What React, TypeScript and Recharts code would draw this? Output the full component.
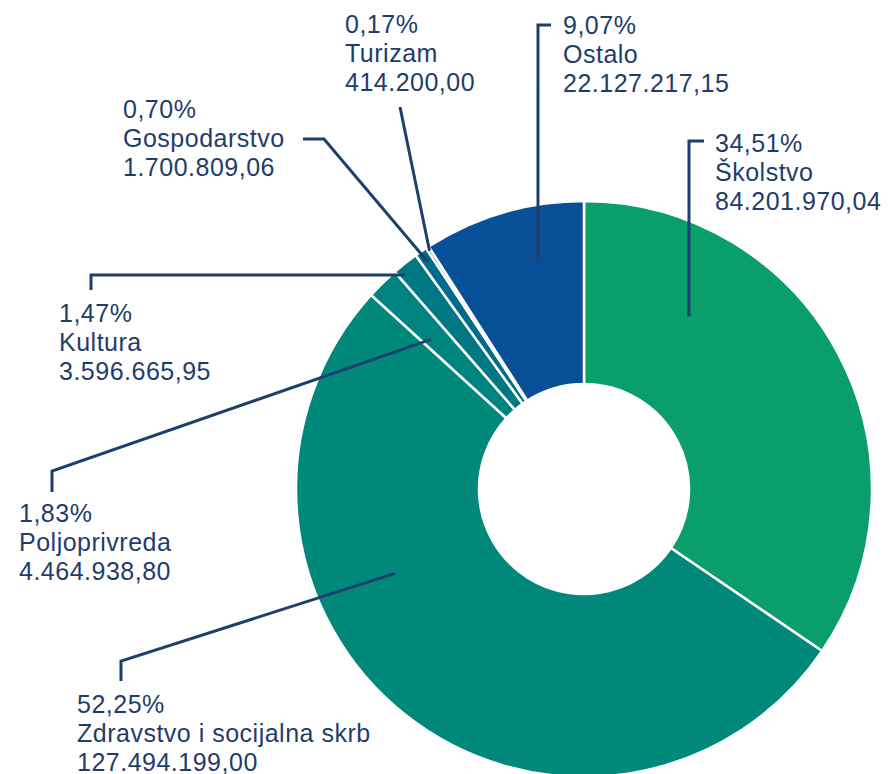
import React from 'react';
import { PieChart, Pie, Cell } from 'recharts';

const categories = [
  'Školstvo',
  'Zdravstvo i socijalna skrb',
  'Poljoprivreda',
  'Kultura',
  'Gospodarstvo',
  'Turizam',
  'Ostalo',
];

const amounts = [
  84201970.04, 127494199.0, 4464938.8, 3596665.95, 1700809.06, 414200.0, 22127217.15,
];

const sliceColors = ['#0a9e6b', '#00897b', '#008480', '#007884', '#006b8a', '#005e90', '#074f96'];

// where each leader starts inside its slice (t = share of the slice's sweep, r = radius)
// then the bend points and the text block position
const labelLayout = [
  { t: 0.252, r: 202, bends: [[689, 141], [704, 141]], tx: 715, ty: 152 },
  { t: 0.647, r: 207, bends: [[121, 661], [121, 681]], tx: 77, ty: 713 },
  { t: 0.31, r: 214, bends: [[52, 471], [52, 492]], tx: 19, ty: 522 },
  { t: 0.22, r: 279, bends: [[91, 275], [91, 290]], tx: 59, ty: 322 },
  { t: 0.5, r: 276, bends: [[324, 139], [303, 139]], tx: 123, ty: 118 },
  { t: 0.5, r: 284, bends: [[400, 107]], tx: 345, ty: 33 },
  { t: 0.648, r: 231, bends: [[538, 25], [551, 25]], tx: 563, ty: 34 },
];

const total = amounts.reduce((s, v) => s + v, 0);

const formatAmount = (v: number) => {
  const [int, dec] = v.toFixed(2).split('.');
  return int.replace(/\B(?=(\d{3})+(?!\d))/g, '.') + ',' + dec;
};

const formatPercent = (v: number) => ((v / total) * 100).toFixed(2).replace('.', ',') + '%';

const data = categories.map((name, i) => ({ name, value: amounts[i] }));

const TEXT_COLOR = '#1f3d6b';
const LINE_COLOR = '#1d3f6e';
const RAD = Math.PI / 180;

const renderLabel = (props: any) => {
  const { cx, cy, startAngle, endAngle, index, value, name } = props;
  const lay = labelLayout[index];
  const a = startAngle + lay.t * (endAngle - startAngle);
  const ax = cx + lay.r * Math.cos(-a * RAD);
  const ay = cy + lay.r * Math.sin(-a * RAD);
  const pts = [[ax, ay], ...lay.bends].map((p) => p.join(',')).join(' ');
  return (
    <g key={`lbl-${index}`}>
      <polyline points={pts} fill="none" stroke={LINE_COLOR} strokeWidth={3} />
      <text
        x={lay.tx}
        y={lay.ty}
        fill={TEXT_COLOR}
        fontSize={25}
        letterSpacing={0.5}
        fontFamily="'Liberation Sans', Arial, sans-serif"
        textAnchor="start"
      >
        <tspan x={lay.tx}>{formatPercent(value)}</tspan>
        <tspan x={lay.tx} dy={29}>{name}</tspan>
        <tspan x={lay.tx} dy={29}>{formatAmount(value)}</tspan>
      </text>
    </g>
  );
};

export default function App() {
  return (
    <div style={{ position: 'absolute', left: 0, top: 0, width: 891, height: 774, background: '#fff' }}>
      <PieChart width={891} height={774} margin={{ top: 0, right: 0, bottom: 0, left: 0 }}>
        <Pie
          data={data}
          dataKey="value"
          nameKey="name"
          cx={584}
          cy={489}
          innerRadius={105}
          outerRadius={288}
          startAngle={90}
          endAngle={-270}
          stroke="#ffffff"
          strokeWidth={2.5}
          label={renderLabel}
          labelLine={false}
          isAnimationActive={false}
        >
          {data.map((d, i) => (
            <Cell key={d.name} fill={sliceColors[i]} />
          ))}
        </Pie>
      </PieChart>
    </div>
  );
}
